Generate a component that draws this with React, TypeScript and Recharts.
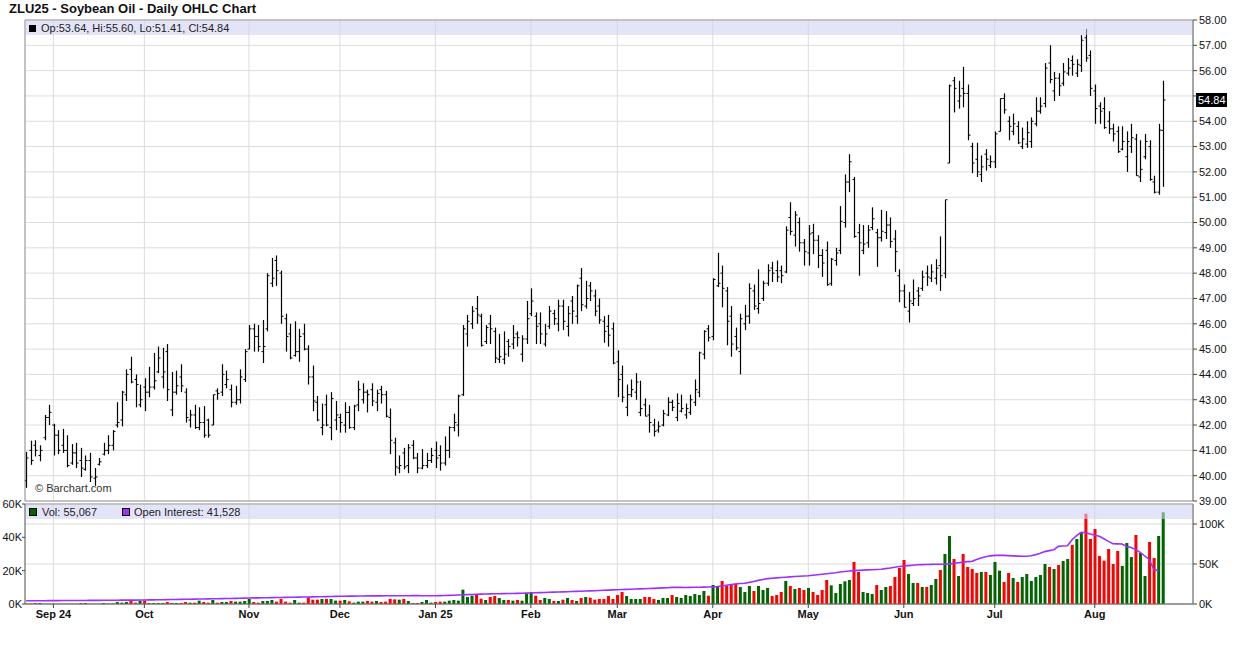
import React from 'react';
import { ComposedChart, Bar, Line, XAxis, YAxis, CartesianGrid, ReferenceLine, ReferenceArea } from 'recharts';

const FONT = '"Liberation Sans", Arial, Helvetica, sans-serif';

const opens = [
  39.8, 41.0, 41.2, 40.8, 41.5, 42.3, 42.0, 41.6, 41.2, 41.0,
  40.5, 40.9, 40.6, 40.25, 40.6, 39.9, 40.45, 40.85, 41.0, 41.2,
  42.0, 42.2, 43.2, 44.2, 43.8, 42.8, 43.5, 43.3, 43.5, 44.1,
  43.9, 44.9, 42.6, 43.3, 43.9, 43.3, 42.2, 42.4, 41.9, 42.1,
  42.2, 42.0, 43.35, 43.3, 43.6, 43.4, 42.9, 43.0, 43.8, 45.0,
  45.8, 45.5, 44.9, 45.8, 47.6, 48.5, 48.0, 46.2, 45.6, 44.75,
  44.9, 45.6, 45.0, 43.9, 42.9, 41.9, 42.8, 41.9, 42.2, 42.3,
  42.0, 42.5, 41.9, 42.8, 43.0, 43.3, 43.4, 42.9, 43.4, 43.2,
  42.3, 41.3, 40.3, 40.9, 40.4, 41.2, 40.7, 40.3, 40.4, 40.6,
  41.0, 40.8, 40.5, 41.0, 41.9, 42.0, 43.2, 45.6, 46.0, 46.6,
  46.3, 45.3, 46.0, 45.7, 44.6, 44.6, 45.3, 45.2, 45.6, 44.8,
  45.4, 46.4, 46.3, 46.0, 45.2, 45.9, 46.4, 46.0, 46.7, 45.9,
  46.9, 46.3, 47.8, 46.7, 47.5, 47.1, 46.7, 46.1, 45.9, 45.8,
  44.5, 44.0, 42.7, 43.2, 43.3, 42.5, 42.8, 42.4, 42.0, 41.8,
  42.0, 42.4, 42.9, 42.3, 42.55, 42.4, 42.5, 42.9, 43.3, 44.8,
  45.8, 45.5, 47.5, 48.0, 47.3, 46.3, 45.5, 44.9, 46.0, 46.3,
  47.3, 46.6, 47.0, 47.6, 48.2, 48.1, 48.1, 48.05, 50.2, 49.5,
  50.0, 49.2, 48.8, 49.6, 49.3, 48.7, 48.9, 47.6, 48.5, 48.9,
  50.0, 51.6, 51.7, 49.6, 48.9, 49.2, 49.8, 49.6, 49.4, 49.6,
  49.9, 49.35, 47.9, 47.3, 46.5, 46.8, 47.3, 47.4, 48.0, 47.8,
  47.8, 48.3, 48.0, 52.35, 55.6, 54.8, 55.3, 55.1, 53.0, 52.5,
  51.9, 52.7, 52.25, 52.4, 53.6, 54.9, 54.0, 53.6, 53.8, 53.0,
  53.1, 53.2, 53.9, 54.4, 54.7, 56.3, 55.2, 55.7, 55.5, 55.9,
  56.4, 55.9, 56.2, 57.3, 56.6, 55.2, 54.6, 54.5, 54.0, 53.7,
  53.6, 52.9, 52.6, 53.0, 53.3, 51.8, 52.6, 53.0, 51.6, 51.2,
  53.64,
];

const highs = [
  40.94, 41.38, 41.4, 41.2, 42.4, 42.8, 42.05, 41.8, 41.85, 41.6,
  41.25, 41.3, 41.1, 40.8, 40.9, 40.3, 40.7, 41.3, 41.6, 41.8,
  42.9, 43.35, 44.2, 44.7, 44.0, 43.6, 43.85, 44.3, 44.85, 45.1,
  45.05, 45.2, 44.1, 44.15, 44.4, 43.45, 42.6, 42.8, 42.7, 42.75,
  42.25, 43.2, 43.45, 44.4, 44.15, 43.6, 43.55, 44.2, 45.0, 45.95,
  46.0, 45.95, 46.15, 48.0, 48.6, 48.7, 48.1, 46.4, 46.0, 46.1,
  45.8, 46.0, 45.15, 44.35, 43.15, 42.85, 43.2, 43.3, 42.95, 42.45,
  42.9, 42.75, 42.8, 43.75, 43.65, 43.4, 43.65, 43.4, 43.55, 43.35,
  42.65, 41.5, 40.8, 41.1, 41.25, 41.4, 40.9, 41.05, 40.9, 41.1,
  41.35, 41.2, 41.55, 41.95, 42.45, 43.2, 45.95, 46.35, 46.7, 47.1,
  46.4, 45.95, 46.35, 45.85, 45.6, 45.7, 45.4, 45.95, 45.7, 45.55,
  46.9, 47.4, 46.45, 46.45, 46.0, 46.7, 46.55, 46.95, 46.95, 46.7,
  47.1, 47.55, 48.2, 47.7, 47.65, 47.35, 47.0, 46.3, 46.35, 46.05,
  44.95, 44.35, 43.6, 43.8, 44.05, 43.75, 43.05, 42.8, 42.25, 42.15,
  42.6, 43.1, 43.0, 43.25, 43.2, 42.85, 43.2, 43.8, 44.9, 45.75,
  45.95, 47.8, 48.8, 48.3, 47.45, 46.7, 45.85, 46.4, 46.75, 47.6,
  47.55, 48.15, 47.7, 48.35, 48.45, 48.5, 48.3, 49.85, 50.8, 50.45,
  50.2, 49.35, 49.9, 49.95, 49.5, 48.95, 49.25, 48.6, 49.0, 50.65,
  51.9, 52.7, 51.8, 49.95, 49.9, 49.9, 50.6, 49.75, 50.5, 50.45,
  50.2, 49.7, 48.15, 47.55, 47.25, 47.75, 47.45, 48.1, 48.3, 48.35,
  48.55, 49.45, 50.9, 55.45, 55.75, 55.6, 56.15, 55.45, 53.15, 53.15,
  52.65, 52.9, 52.65, 53.6, 54.9, 55.1, 54.2, 54.3, 54.0, 53.75,
  54.0, 54.15, 54.95, 54.95, 56.3, 57.0, 55.95, 55.9, 56.3, 56.5,
  56.6, 56.45, 57.4, 57.65, 56.8, 55.45, 54.75, 54.95, 54.4, 53.9,
  53.8, 53.8, 53.6, 53.9, 53.5, 53.25, 53.5, 53.25, 51.85, 53.9,
  55.6,
];

const lows = [
  39.52, 40.43, 40.76, 40.57, 41.4, 42.0, 40.8, 40.85, 40.9, 40.33,
  40.43, 40.3, 39.95, 40.2, 39.75, 39.6, 40.4, 40.8, 40.85, 41.0,
  41.9, 41.95, 42.95, 43.65, 42.7, 42.7, 42.55, 43.1, 43.4, 44.05,
  43.45, 42.95, 42.35, 43.2, 43.3, 42.1, 41.9, 41.85, 41.8, 41.5,
  41.5, 42.0, 43.0, 43.15, 43.45, 42.7, 42.8, 42.85, 43.7, 45.0,
  44.9, 44.9, 44.45, 45.7, 47.45, 47.5, 46.0, 44.9, 44.6, 44.7,
  44.5, 44.95, 43.6, 42.55, 42.15, 41.6, 41.95, 41.4, 41.8, 41.7,
  41.7, 41.85, 41.8, 42.55, 42.85, 42.5, 42.75, 42.55, 42.85, 42.3,
  40.85, 40.0, 40.1, 40.25, 40.1, 40.65, 40.1, 40.25, 40.3, 40.5,
  40.3, 40.2, 40.4, 40.7, 41.75, 41.55, 43.15, 45.1, 45.8, 46.0,
  45.1, 45.2, 45.2, 44.45, 44.45, 44.4, 44.7, 45.0, 45.1, 44.5,
  45.2, 46.3, 45.2, 45.2, 45.1, 45.8, 45.95, 45.7, 45.75, 45.5,
  46.0, 46.0, 46.5, 46.6, 46.9, 46.3, 46.0, 45.25, 45.1, 44.4,
  43.1, 42.9, 42.35, 43.1, 43.0, 42.35, 42.35, 41.7, 41.55, 41.7,
  41.95, 42.35, 42.55, 42.15, 42.5, 42.25, 42.4, 42.75, 43.1, 44.6,
  45.3, 45.35, 47.45, 46.65, 45.15, 44.7, 44.95, 44.0, 45.75, 46.0,
  46.55, 46.4, 46.9, 47.5, 47.65, 47.65, 47.6, 48.0, 49.5, 49.05,
  48.85, 48.3, 48.3, 48.75, 48.2, 47.85, 47.5, 47.5, 48.3, 48.75,
  49.8, 51.2, 49.4, 47.9, 48.75, 49.0, 49.7, 48.25, 49.25, 49.35,
  49.0, 48.05, 46.85, 46.65, 46.05, 46.7, 46.7, 47.3, 47.5, 47.65,
  47.55, 47.3, 47.8, 52.35, 54.35, 54.5, 54.55, 53.25, 51.95, 51.8,
  51.6, 52.05, 52.15, 52.15, 53.6, 54.3, 53.25, 53.45, 53.1, 52.9,
  52.95, 52.95, 53.8, 54.3, 54.55, 55.5, 54.8, 55.0, 55.4, 55.8,
  55.8, 55.75, 55.95, 56.35, 55.0, 53.9, 53.9, 53.7, 53.5, 53.2,
  52.75, 52.85, 52.0, 52.75, 51.85, 51.6, 52.5, 51.65, 51.15, 51.1,
  51.41,
];

const closes = [
  40.7, 40.6, 41.0, 41.0, 42.3, 42.5, 41.6, 41.0, 41.0, 40.4,
  40.9, 40.5, 40.3, 40.6, 39.95, 39.95, 40.55, 41.0, 41.2, 41.75,
  42.1, 43.3, 44.0, 43.7, 43.6, 43.0, 43.3, 43.5, 43.75, 44.65,
  44.1, 43.4, 43.3, 43.55, 43.55, 42.3, 42.4, 41.9, 42.1, 41.6,
  41.6, 43.2, 43.25, 44.0, 43.8, 42.9, 43.0, 43.9, 44.9, 45.8,
  45.5, 45.1, 45.1, 47.9, 47.8, 48.1, 46.3, 45.5, 44.65, 44.9,
  45.5, 45.0, 43.9, 42.95, 42.2, 42.0, 42.0, 43.05, 42.4, 42.1,
  42.5, 41.9, 42.75, 43.4, 43.3, 43.2, 42.95, 43.25, 43.2, 42.35,
  41.4, 40.35, 40.4, 40.35, 41.1, 40.7, 40.3, 40.4, 40.6, 40.8,
  40.7, 40.5, 41.0, 41.9, 42.1, 43.15, 45.8, 46.1, 46.5, 46.35,
  45.15, 45.85, 45.8, 44.65, 44.7, 44.8, 45.1, 45.45, 45.45, 45.4,
  46.2, 46.9, 45.9, 45.6, 45.6, 46.5, 46.2, 46.7, 46.1, 46.4,
  46.5, 47.5, 46.75, 47.0, 47.3, 46.5, 46.15, 45.7, 45.55, 44.45,
  43.8, 43.1, 43.2, 43.4, 43.7, 42.65, 42.35, 42.1, 41.75, 41.95,
  42.45, 42.9, 42.7, 42.85, 42.65, 42.65, 43.0, 43.4, 44.85, 45.7,
  45.45, 47.75, 47.6, 47.4, 46.1, 45.2, 45.05, 46.2, 46.3, 47.4,
  46.7, 46.8, 47.6, 48.1, 48.0, 47.85, 47.9, 49.7, 49.65, 50.3,
  49.2, 48.85, 49.55, 49.3, 48.7, 48.4, 47.55, 48.55, 48.8, 50.05,
  51.6, 52.4, 49.45, 49.2, 49.15, 49.7, 50.15, 49.4, 49.65, 49.9,
  49.25, 48.85, 47.3, 46.65, 46.9, 47.0, 47.1, 47.85, 47.85, 48.05,
  48.2, 47.9, 50.9, 55.4, 55.3, 55.0, 55.1, 53.45, 52.35, 52.0,
  52.2, 52.5, 52.4, 53.5, 54.9, 54.45, 53.8, 53.9, 53.15, 53.3,
  53.55, 54.0, 54.4, 54.6, 56.1, 55.65, 55.7, 55.4, 55.95, 56.1,
  56.25, 56.25, 57.2, 56.5, 55.3, 54.5, 54.4, 53.75, 53.7, 53.5,
  52.8, 53.2, 53.2, 53.35, 51.85, 52.1, 53.2, 51.7, 51.2, 53.65,
  54.84,
];

const volumes = [
  150, 150, 600, 600, 100, 100, 100, 100, 100, 100,
  100, 100, 600, 600, 100, 100, 150, 600, 200, 200,
  1200, 800, 1200, 2000, 800, 2000, 2000, 600, 600, 600,
  600, 1200, 600, 600, 600, 1200, 800, 800, 2000, 1200,
  800, 2400, 800, 1200, 1200, 1800, 1400, 1400, 1800, 3000,
  1200, 800, 1800, 1800, 2400, 1400, 3000, 1400, 800, 2400,
  800, 800, 4000, 2600, 2600, 3000, 3000, 3000, 2000, 2000,
  2400, 1600, 800, 1400, 1400, 1800, 1400, 1800, 1200, 1400,
  3000, 2800, 2600, 3000, 1800, 600, 600, 1200, 2400, 800,
  1200, 1400, 1400, 2000, 2400, 2000, 8600, 4200, 5000, 6000,
  3200, 2400, 4200, 4800, 3600, 2400, 2400, 2000, 2400, 2000,
  6200, 7200, 5000, 2400, 3600, 3000, 1800, 1800, 2600, 3600,
  2400, 1800, 3600, 4200, 3800, 2600, 3000, 3000, 4800, 3000,
  5400, 7200, 4800, 3000, 3000, 3000, 4200, 4200, 3000, 2400,
  3600, 3600, 5400, 4200, 3600, 5400, 4800, 6000, 5400, 7800,
  5000, 11400, 10800, 13800, 10800, 12000, 12200, 10200, 7200, 10800,
  7800, 10800, 8400, 9600, 4800, 5400, 7200, 13800, 10800, 9000,
  9600, 8400, 9600, 7200, 5400, 8400, 14400, 11200, 6600, 12000,
  13600, 14400, 25200, 19200, 7200, 6600, 6000, 11400, 8400, 10200,
  10800, 16200, 21600, 26400, 18000, 12600, 12600, 10200, 10200, 11400,
  15000, 20400, 30000, 40800, 27000, 16800, 30000, 22200, 21000, 18600,
  19200, 19200, 17400, 25200, 20000, 13200, 18600, 15600, 13200, 16200,
  18000, 13800, 16200, 17400, 24000, 22200, 21000, 23400, 25800, 27000,
  35400, 39000, 43200, 54200, 39000, 45000, 28800, 26000, 33000, 24000,
  31800, 22800, 36600, 28200, 41400, 30600, 16800, 37200, 27600, 40800,
  55067,
];

const openInterest: (number | null)[] = [
  4000, 4000, 4100, 4100, 4100, 4200, 4200, 4200, 4300, 4300,
  4300, 4400, 4400, 4400, 4500, 4500, 4500, 4600, 4600, 4700,
  4700, 4800, 4800, 4900, 4900, 5000, 5000, 5100, 5200, 5300,
  5400, 5500, 5600, 5700, 5800, 5900, 6000, 6100, 6200, 6300,
  6400, 6500, 6600, 6700, 6800, 6900, 7000, 7200, 7300, 7500,
  7600, 7700, 7800, 7900, 8000, 8100, 8200, 8300, 8400, 8500,
  8600, 8700, 8800, 8900, 9000, 9100, 9200, 9300, 9500, 9600,
  9700, 9800, 9900, 10000, 10000, 10100, 10100, 10200, 10200, 10300,
  10300, 10300, 10400, 10400, 10400, 10500, 10500, 10400, 10400, 10400,
  10400, 10500, 10600, 10800, 11000, 11200, 11500, 11700, 11900, 12100,
  12300, 12500, 12600, 12800, 12900, 13000, 13100, 13200, 13300, 13400,
  13600, 13800, 14000, 14200, 14400, 14600, 14800, 15000, 15200, 15400,
  15600, 15800, 16000, 16200, 16400, 16600, 16900, 17100, 17400, 17700,
  17900, 18100, 18300, 18500, 18700, 18900, 19100, 19300, 19500, 19800,
  20100, 20400, 20800, 20900, 20800, 20700, 20800, 20900, 21000, 21100,
  21200, 21300, 21800, 22600, 23500, 24300, 25000, 25600, 26000, 27000,
  28200, 29500, 30600, 31700, 32200, 32700, 33100, 33500, 33900, 34300,
  34700, 35000, 35400, 36000, 36600, 37200, 37800, 38400, 39000, 40000,
  40600, 41200, 41700, 42000, 42300, 42600, 42900, 43200, 43500, 44200,
  45000, 46000, 46800, 47500, 48000, 48500, 49000, 49200, 49400, 49500,
  49600, 49600, 49800, 50200, 50800, 51500, 52300, 53000, 53300, 55500,
  57500, 59000, 60200, 60800, 61000, 60800, 60500, 60200, 59900, 59700,
  59600, 60400, 61700, 63500, 65500, 66700, 67900, 72000, 72500, 72900,
  80400, 85500, 89600, 89000, 87500, 86000, 84600, 81500, 78300, 75400,
  75200, 75000, 72000, 70500, 68000, 64600, 60000, 55400, 43000, 41528,
  null,
];

const MONTH_IDX = [6, 26, 49, 69, 90, 111, 130, 151, 172, 193, 213, 235];
const MONTH_LABELS = ['Sep 24', 'Oct', 'Nov', 'Dec', 'Jan 25', 'Feb', 'Mar', 'Apr', 'May', 'Jun', 'Jul', 'Aug'];
const PRICE_TICKS = [39, 40, 41, 42, 43, 44, 45, 46, 47, 48, 49, 50, 51, 52, 53, 54, 55, 56, 57, 58];
const VOL_TICKS = [0, 20000, 40000, 60000];
const OI_TICKS = [0, 50000, 100000];
const X_DOMAIN: [number, number] = [-0.25, 256.6];

const data = closes.map((c, i) => ({
  i,
  o: opens[i],
  h: highs[i],
  l: lows[i],
  c,
  range: [lows[i], highs[i]],
  v: volumes[i],
  oi: openInterest[i],
}));

const last = data[data.length - 1];
const lastOI = [...openInterest].reverse().find((v) => v != null) as number;

function OhlcShape(props: any) {
  const { x, y, width, height, payload } = props;
  if (x == null || y == null || !payload) return null;
  const top = Math.min(y, y + height);
  const bot = Math.max(y, y + height);
  const cx = Math.round(x + width / 2) + 0.5;
  const span = payload.h - payload.l;
  const yO = span > 0 ? top + ((payload.h - payload.o) / span) * (bot - top) : top;
  const yC = span > 0 ? top + ((payload.h - payload.c) / span) * (bot - top) : top;
  return (
    <g>
      <line x1={cx} x2={cx} y1={top} y2={bot} stroke="#000" strokeWidth={1.2} />
      <line x1={cx - 2} x2={cx} y1={yO} y2={yO} stroke="#000" strokeWidth={1} />
      <line x1={cx} x2={cx + 2} y1={yC} y2={yC} stroke="#000" strokeWidth={1} />
    </g>
  );
}

function VolShape(props: any) {
  const { x, y, width, height, payload } = props;
  if (x == null || y == null || !payload) return null;
  const top = Math.min(y, y + height);
  const h = Math.abs(height);
  return <rect x={x} y={top} width={width} height={h} fill={payload.c >= payload.o ? '#006400' : '#ff0000'} />;
}

function LastPriceLabel(props: any) {
  const vb = props.viewBox;
  if (!vb) return null;
  const x = vb.x + vb.width + 3;
  const y = vb.y;
  return (
    <g>
      <rect x={x} y={y - 7} width={31} height={14} fill="#000" />
      <text x={x + 2} y={y + 4} fill="#fff" fontSize={11} fontFamily={FONT}>
        {props.text}
      </text>
    </g>
  );
}

const tickStyle = { fontSize: 11, fill: '#111', fontFamily: FONT };

// the last-price box covers the nearest price label, as in the reference
const priceLabel = (v: number) => (Math.abs(v - last.c) < 0.3 ? '' : v.toFixed(2));

export default function App() {
  return (
    <div style={{ position: 'absolute', left: 0, top: 0, width: 1236, height: 645, background: '#fff', fontFamily: FONT, color: '#111' }}>
      <div style={{ position: 'absolute', left: 9, top: 1, fontSize: 13, fontWeight: 'bold', lineHeight: '16px', whiteSpace: 'nowrap' }}>
        ZLU25 - Soybean Oil - Daily OHLC Chart
      </div>

      <div style={{ position: 'absolute', left: 0, top: 0 }}>
        <ComposedChart width={1236} height={510} data={data} margin={{ top: 20, right: 3, left: 25, bottom: 9 }}>
          <XAxis xAxisId="x" dataKey="i" type="number" domain={X_DOMAIN} ticks={MONTH_IDX} hide allowDataOverflow />
          <YAxis
            yAxisId="p"
            orientation="right"
            domain={[39, 58]}
            ticks={PRICE_TICKS}
            interval={0}
            width={40}
            allowDataOverflow
            tickFormatter={priceLabel}
            tick={tickStyle}
            tickSize={4}
            tickMargin={2}
            axisLine={{ stroke: '#888' }}
            tickLine={{ stroke: '#444' }}
          />
          <CartesianGrid xAxisId="x" yAxisId="p" stroke="#dcdcdc" />
          <ReferenceArea xAxisId="x" yAxisId="p" x1={X_DOMAIN[0]} x2={X_DOMAIN[1]} y1={39} y2={58} fill="none" stroke="#999" ifOverflow="visible" />
          <Bar xAxisId="x" yAxisId="p" dataKey="range" barSize={3} shape={<OhlcShape />} isAnimationActive={false} />
          <ReferenceLine xAxisId="x" yAxisId="p" y={last.c} stroke="none" label={<LastPriceLabel text={last.c.toFixed(2)} />} />
        </ComposedChart>
      </div>

      <div style={{ position: 'absolute', left: 0, top: 495 }}>
        <ComposedChart width={1236} height={150} data={data} margin={{ top: 9, right: 3, left: 0, bottom: 17 }}>
          <XAxis
            xAxisId="x"
            dataKey="i"
            type="number"
            domain={X_DOMAIN}
            ticks={MONTH_IDX}
            interval={0}
            allowDataOverflow
            height={24}
            tickFormatter={(v: number) => MONTH_LABELS[MONTH_IDX.indexOf(v)] ?? ''}
            tick={{ ...tickStyle, fontWeight: 'bold' }}
            tickSize={4}
            tickMargin={2}
            axisLine={{ stroke: '#777' }}
            tickLine={{ stroke: '#444' }}
          />
          <YAxis
            yAxisId="vol"
            orientation="left"
            domain={[0, 60000]}
            ticks={VOL_TICKS}
            interval={0}
            width={25}
            allowDataOverflow
            tickFormatter={(v: number) => `${v / 1000}K`}
            tick={tickStyle}
            tickSize={3}
            tickMargin={0}
            axisLine={{ stroke: '#888' }}
            tickLine={{ stroke: '#444' }}
          />
          <YAxis
            yAxisId="oi"
            orientation="right"
            domain={[0, 125000]}
            ticks={OI_TICKS}
            interval={0}
            width={40}
            allowDataOverflow
            tickFormatter={(v: number) => `${v / 1000}K`}
            tick={tickStyle}
            tickSize={4}
            tickMargin={2}
            axisLine={{ stroke: '#888' }}
            tickLine={{ stroke: '#444' }}
          />
          <CartesianGrid xAxisId="x" yAxisId="oi" stroke="#dcdcdc" />
          <ReferenceArea xAxisId="x" yAxisId="vol" x1={X_DOMAIN[0]} x2={X_DOMAIN[1]} y1={0} y2={60000} fill="none" stroke="#999" ifOverflow="visible" />
          <Bar xAxisId="x" yAxisId="vol" dataKey="v" barSize={3} shape={<VolShape />} isAnimationActive={false} />
          <Line xAxisId="x" yAxisId="oi" dataKey="oi" type="linear" stroke="#9b30ff" strokeWidth={1.6} dot={false} activeDot={false} connectNulls={false} isAnimationActive={false} />
        </ComposedChart>
      </div>

      {/* price legend band */}
      <div style={{ position: 'absolute', left: 26, top: 21, width: 1166, height: 14, background: 'rgba(210,210,245,0.6)' }}>
        <div style={{ position: 'absolute', left: 3, top: 4, width: 7, height: 7, background: '#000' }} />
        <div style={{ position: 'absolute', left: 15, top: 0, fontSize: 11, lineHeight: '14px', whiteSpace: 'nowrap', color: '#222' }}>
          {`Op:${last.o.toFixed(2)}, Hi:${last.h.toFixed(2)}, Lo:${last.l.toFixed(2)}, Cl:${last.c.toFixed(2)}`}
        </div>
      </div>

      <div style={{ position: 'absolute', left: 35, top: 481, fontSize: 11, lineHeight: '14px', color: '#333', whiteSpace: 'nowrap' }}>
        © Barchart.com
      </div>

      {/* volume legend band */}
      <div style={{ position: 'absolute', left: 26, top: 505, width: 1166, height: 14, background: 'rgba(210,210,245,0.6)' }}>
        <div style={{ position: 'absolute', left: 3, top: 3, width: 6, height: 6, background: '#006400', border: '1px solid #000' }} />
        <div style={{ position: 'absolute', left: 16, top: 0, fontSize: 11, lineHeight: '14px', whiteSpace: 'nowrap', color: '#222' }}>
          {`Vol: ${last.v.toLocaleString('en-US')}`}
        </div>
        <div style={{ position: 'absolute', left: 96, top: 3, width: 6, height: 6, background: '#9b30ff', border: '1px solid #000' }} />
        <div style={{ position: 'absolute', left: 108, top: 0, fontSize: 11, lineHeight: '14px', whiteSpace: 'nowrap', color: '#222' }}>
          {`Open Interest: ${lastOI.toLocaleString('en-US')}`}
        </div>
      </div>
    </div>
  );
}
